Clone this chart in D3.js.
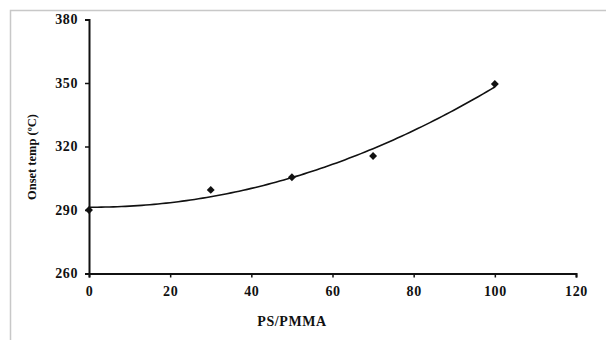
<!DOCTYPE html>
<html>
<head>
<meta charset="utf-8">
<script src="https://cdn.jsdelivr.net/npm/d3@7"></script>
<style>
  body { margin: 0; background: #fff; }
  svg text { font-family: "Liberation Serif", "DejaVu Serif", serif; font-weight: bold; fill: #111; }
</style>
</head>
<body>
<svg id="chart" width="606" height="340"></svg>
<script>
// PS/PMMA ratio vs onset temperature
const ratio = [0, 30, 50, 70, 100];
const onsetTemp = [290, 299.5, 305.5, 315.5, 349.5];
const xTicks = [0, 20, 40, 60, 80, 100, 120];
const yTicks = [260, 290, 320, 350, 380];

let svg = d3.select("svg#chart");

// outer frame (only top and left edges visible in the original)
svg.append("path")
  .attr("d", "M10.5,340 V10.5 H606")
  .attr("fill", "none")
  .attr("stroke", "#c8c8c8")
  .attr("stroke-width", 1.5);

let x = d3.scaleLinear().domain([0, 120]).range([89, 576]);
let y = d3.scaleLinear().domain([260, 380]).range([273.5, 19.5]);

// axes
let xAxis = svg.append("g")
  .attr("transform", "translate(0," + y(260) + ")")
  .call(d3.axisBottom(x).tickValues(xTicks).tickSize(4).tickSizeOuter(4).tickPadding(9));
let yAxis = svg.append("g")
  .attr("transform", "translate(" + x(0) + ",0)")
  .call(d3.axisLeft(y).tickValues(yTicks).tickSize(4).tickSizeOuter(4).tickPadding(7));

[xAxis, yAxis].forEach(a => {
  a.select(".domain").attr("stroke", "#111").attr("stroke-width", 2);
  a.selectAll(".tick line").attr("stroke", "#111").attr("stroke-width", 1.5);
  a.selectAll("text").style("font-size", "14px").style("letter-spacing", "0.6px").attr("fill", "#111");
});

// quadratic least squares trend line (as the spreadsheet did)
function polyFit2(xs, ys) {
  let n = xs.length, s = [0, 0, 0, 0, 0], t = [0, 0, 0];
  for (let i = 0; i < n; i++) {
    for (let k = 0; k < 5; k++) s[k] += Math.pow(xs[i], k);
    for (let k = 0; k < 3; k++) t[k] += ys[i] * Math.pow(xs[i], k);
  }
  let A = [[s[0], s[1], s[2], t[0]], [s[1], s[2], s[3], t[1]], [s[2], s[3], s[4], t[2]]];
  for (let i = 0; i < 3; i++) {
    for (let j = i + 1; j < 3; j++) {
      let f = A[j][i] / A[i][i];
      for (let k = i; k < 4; k++) A[j][k] -= f * A[i][k];
    }
  }
  let c = [0, 0, 0];
  for (let i = 2; i >= 0; i--) {
    let v = A[i][3];
    for (let k = i + 1; k < 3; k++) v -= A[i][k] * c[k];
    c[i] = v / A[i][i];
  }
  return c;
}
let coef = polyFit2(ratio, onsetTemp);
let trend = d3.range(0, 100.5, 1).map(v => [v, coef[0] + coef[1] * v + coef[2] * v * v]);

svg.append("path")
  .datum(trend)
  .attr("d", d3.line().x(d => x(d[0])).y(d => y(d[1])))
  .attr("fill", "none")
  .attr("stroke", "#111")
  .attr("stroke-width", 1.6);

// diamond markers
svg.append("g")
  .selectAll("path")
  .data(ratio.map((r, i) => ({ r: r, t: onsetTemp[i] })))
  .join("path")
  .attr("d", d3.symbol().type(d3.symbolDiamond2).size(40))
  .attr("transform", d => "translate(" + x(d.r) + "," + y(d.t) + ")")
  .attr("fill", "#111");

// axis titles
svg.append("text")
  .attr("x", 292)
  .attr("y", 326)
  .attr("text-anchor", "middle")
  .style("font-size", "14px")
  .style("letter-spacing", "0.6px")
  .text("PS/PMMA");

svg.append("text")
  .attr("transform", "translate(36,157) rotate(-90)")
  .attr("text-anchor", "middle")
  .style("font-size", "12.5px")
  .text("Onset temp (ºC)");
</script>
</body>
</html>
